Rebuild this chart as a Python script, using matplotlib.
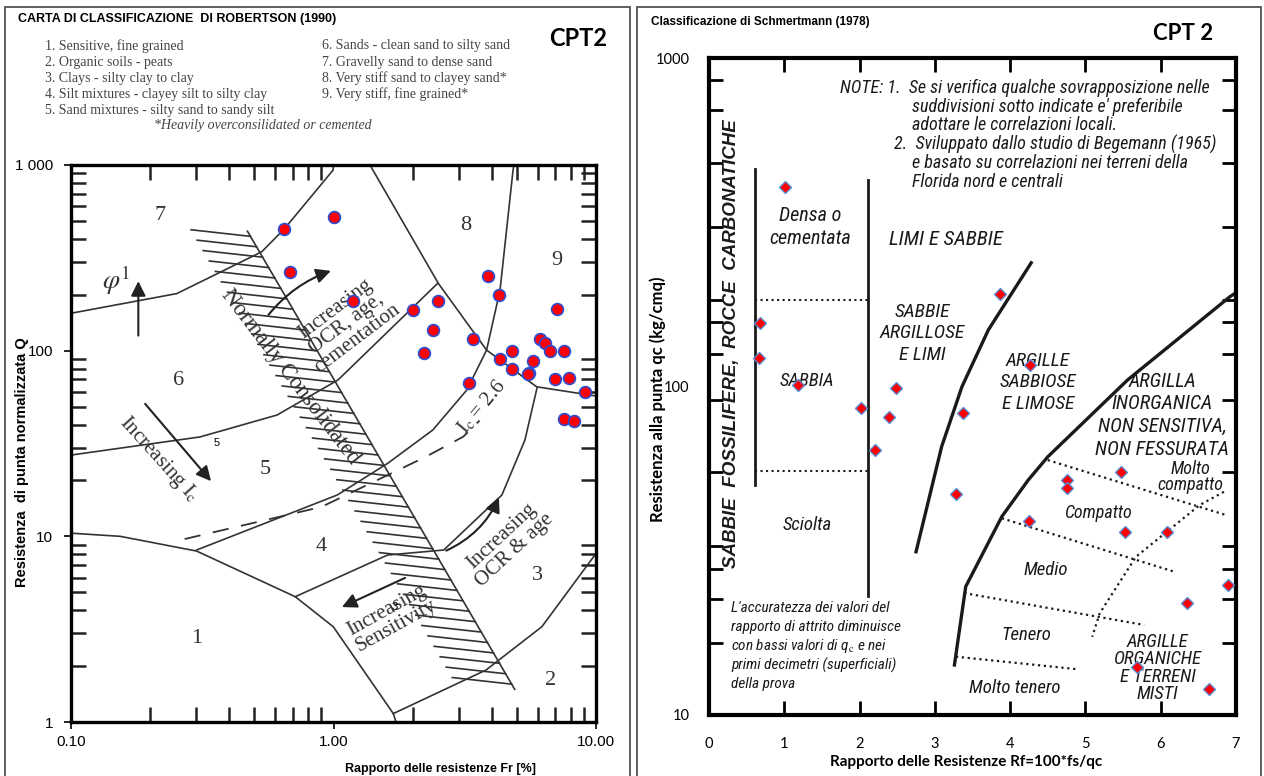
import matplotlib
matplotlib.use('Agg')
import matplotlib.pyplot as plt
import matplotlib.patheffects as pe
from matplotlib import font_manager
from matplotlib.patches import Rectangle
from matplotlib.ticker import FixedLocator, NullFormatter

installed = {f.name for f in font_manager.fontManager.ttflist}


def pick(*names):
    for n in names:
        if n in installed:
            return n
    return 'DejaVu Sans'


SANS = pick('Liberation Sans', 'Arial')
SERIF = pick('Liberation Serif', 'DejaVu Serif')
NARROW = pick('Liberation Sans Narrow', 'Roboto Condensed', 'Liberation Sans')
CALIBRI = pick('Lato', 'Open Sans')

plt.rcParams['font.family'] = [SANS, 'DejaVu Sans']
plt.rcParams['mathtext.fontset'] = 'stix'

# CPT2 points on the Robertson (1990) chart
fr_rob = [0.65, 1.00, 0.68, 1.19, 2.01, 2.49, 2.39, 2.22, 3.88, 4.28, 3.41, 3.29, 4.32, 4.80,
          4.80, 5.77, 5.56, 5.52, 6.13, 6.38, 6.70, 7.57, 7.09, 7.00, 7.87, 9.08, 7.55, 8.24]
q_rob = [450, 524, 264, 184, 165, 184, 129, 97, 252, 200, 116, 67, 90, 100,
         80, 88, 76, 75, 116, 110, 99, 99, 168, 70, 71, 60, 43, 42]

# CPT2 points on the Schmertmann (1978) chart
rf_sch = [1.01, 0.68, 0.67, 1.18, 2.02, 2.49, 2.39, 2.20, 3.87, 4.27, 3.38,
          3.28, 4.76, 4.76, 5.47, 4.25, 5.52, 6.08, 6.90, 6.35, 5.69, 6.64]
qc_sch = [404, 156, 122, 101, 86, 99, 81, 64, 191, 116, 83,
          47, 52, 49, 55, 39, 36, 36, 24.8, 22, 14, 12]

# Robertson zone boundaries
b1_fr = [0.100, 0.154, 0.301, 0.715, 0.998, 1.69, 1.73]
b1_q = [10.4, 10.0, 8.33, 4.73, 3.26, 1.11, 1.0]
b2_fr = [1.69, 3.81, 6.22, 9.9, 10.0]
b2_q = [1.11, 1.905, 3.26, 7.93, 8.1]
b34_fr = [0.715, 1.607, 2.63, 4.38, 5.36, 5.96]
b34_q = [4.73, 7.93, 8.44, 16.7, 33.0, 62.9]
b45_fr = [0.301, 1.034, 1.607, 2.39, 3.22, 3.83, 4.31, 4.83, 4.87]
b45_q = [8.44, 16.7, 24.7, 37.4, 61.4, 100.7, 212, 938, 1000]
b56_fr = [0.1, 0.31, 0.609, 1.04, 2.49]
b56_q = [27.4, 34.3, 45.0, 69.5, 230]
b67_fr = [0.1, 0.253, 0.533, 0.649, 0.996, 1.0]
b67_q = [159, 203, 341, 452, 938, 1000]
b8_fr = [1.377, 2.51, 3.83, 5.94, 10.0]
b8_q = [1000, 230, 100.7, 63.9, 57.0]
ic26_fr = [0.271, 0.899, 2.245, 3.12, 3.6]
ic26_q = [9.67, 14.4, 26.8, 34.4, 42.0]
nc_fr = [0.47, 4.9]
nc_q = [440, 1.5]

zone_labels = ['1', '2', '3', '4', '5', '6', '7', '8', '9']
zone_fr = [0.301, 6.69, 5.96, 0.899, 0.548, 0.256, 0.218, 3.19, 7.08]
zone_q = [2.82, 1.68, 6.19, 8.87, 22.8, 69.4, 537, 475, 307]

legend_left = ['1. Sensitive, fine grained', '2. Organic soils - peats',
               '3. Clays - silty clay to clay', '4. Silt mixtures - clayey silt to silty clay',
               '5. Sand mixtures - silty sand to sandy silt']
legend_right = ['6. Sands - clean sand to silty sand', '7. Gravelly sand to dense sand',
                '8. Very stiff sand to clayey sand*', '9. Very stiff, fine grained*']

# Schmertmann chart lines
sv1_rf = [0.61, 0.61]
sv1_qc = [50, 460]
sv2_rf = [2.11, 2.11]
sv2_qc = [23, 425]
sdot_rf = [0.61, 2.11]
sdot_hi = [183, 183]
sdot_lo = [55.3, 55.3]
sc1_rf = [4.28, 3.71, 3.36, 3.09, 2.75]
sc1_qc = [238, 148.6, 99.9, 65.6, 31.4]
sc2_rf = [7.0, 6.92, 5.56, 4.50, 4.24, 3.89, 3.41, 3.26]
sc2_qc = [193, 187.7, 104.7, 61.1, 51.9, 40.2, 24.6, 14.2]
sd1_rf = [4.50, 6.87]
sd1_qc = [59.7, 40.6]
sd2_rf = [3.89, 6.18]
sd2_qc = [39.7, 27.3]
sd3_rf = [3.39, 5.78]
sd3_qc = [23.5, 18.8]
sd4_rf = [3.28, 4.87]
sd4_qc = [15.05, 13.8]
sd5_rf = [6.84, 6.52, 5.67, 5.19, 5.09]
sd5_qc = [47.8, 43.6, 30.3, 20.4, 17.3]
scan_ticks = [857, 693, 478, 306, 183, 157, 126, 91, 55, 32.7, 27.9, 22.5, 16.6]

W, H = 1264, 776
fig = plt.figure(figsize=(W / 100, H / 100), dpi=100)


def ftext(x, y, s, **kw):
    fig.text(x / W, 1 - y / H, s, **kw)


def frame(x0, x1):
    fig.add_artist(Rectangle((x0 / W, -0.01), (x1 - x0) / W, 1.01 - 7 / H,
                             transform=fig.transFigure, fill=False, lw=1.2, ec='#444444'))


frame(5, 630)
frame(637, 1261)

# ---------------- left: Robertson ----------------
ax1 = fig.add_axes([71 / W, 1 - 722 / H, (596 - 71) / W, (722 - 165) / H])
ax1.set_xscale('log')
ax1.set_yscale('log')
ax1.set_xlim(0.1, 10)
ax1.set_ylim(1, 1000)
ax1.set_xticks([0.1, 1, 10])
ax1.set_xticklabels(['0.10', '1.00', '10.00'])
ax1.set_yticks([1, 10, 100, 1000])
ax1.set_yticklabels(['1', '10', '100', '1 000'])
ax1.xaxis.set_minor_formatter(NullFormatter())
ax1.yaxis.set_minor_formatter(NullFormatter())
ax1.tick_params(which='major', direction='out', length=5, width=1.2, labelsize=11)
ax1.tick_params(axis='x', which='major', pad=4)
ax1.tick_params(axis='y', which='major', pad=8)
ax1.tick_params(which='minor', direction='in', length=11, width=1.8,
                top=True, right=True, color='#222222')
for s in ax1.spines.values():
    s.set_linewidth(2.4)

line_kw = dict(color='#333333', lw=1.2, zorder=2)
for fx, qy in [(b1_fr, b1_q), (b2_fr, b2_q), (b34_fr, b34_q), (b45_fr, b45_q),
               (b56_fr, b56_q), (b67_fr, b67_q), (b8_fr, b8_q)]:
    ax1.plot(fx, qy, **line_kw)
ax1.plot(ic26_fr, ic26_q, color='#333333', lw=1.3, ls=(0, (9, 7)))
ax1.plot(nc_fr, nc_q, color='#333333', lw=1.2,
         path_effects=[pe.withTickedStroke(angle=-126.6, spacing=8.6, length=5.0)])

for lab, fx, qy in zip(zone_labels, zone_fr, zone_q):
    ax1.text(fx, qy, lab, family=SERIF, size=16, color='#333333', ha='center', va='center')

serif = dict(family=SERIF, color='#333333', ha='center', va='center', rotation_mode='anchor')
ax1.text(0.683, 72.4, 'Normally Consolidated', size=16.5, rotation=-52.6, **serif)
ax1.text(1.116, 139, 'Increasing\nOCR, age,\ncementation', size=15, rotation=37,
         linespacing=0.95, **serif)
ax1.text(4.62, 9.17, 'Increasing\nOCR & age', size=15, rotation=43, linespacing=0.95, **serif)
ax1.text(1.665, 3.62, 'Increasing\nSensitivity', size=15, rotation=29, linespacing=0.95, **serif)
ax1.text(0.216, 26.1, r'Increasing I$_{\rm c}$', size=15, rotation=-48, **serif)
ax1.text(3.67, 49.9, r'I$_{\rm c}$ = 2.6', size=15, rotation=50, **serif)
ax1.text(0.149, 240, r'$\varphi^{1}$', size=20, **serif)
ax1.text(0.359, 31.7, '5', size=8, ha='center', va='center')
ax1.text(1.71, 4.18, '3', size=8, ha='center', va='center')

arrow = dict(arrowstyle='-|>', color='#222222', lw=1.5, mutation_scale=22)
ax1.annotate('', xy=(0.1805, 245), xytext=(0.1805, 116.5), arrowprops=arrow)
ax1.annotate('', xy=(0.347, 19.3), xytext=(0.1886, 53.1), arrowprops=arrow)
ax1.annotate('', xy=(1.0, 272), xytext=(0.557, 152),
             arrowprops=dict(arrow, connectionstyle='arc3,rad=-0.15'))
ax1.annotate('', xy=(4.31, 16.7), xytext=(2.63, 8.26),
             arrowprops=dict(arrow, connectionstyle='arc3,rad=0.2'))
ax1.annotate('', xy=(1.053, 4.10), xytext=(1.915, 6.06), arrowprops=arrow)

ax1.plot(fr_rob, q_rob, 'o', ms=8.5, mfc='red', mec='#2a4fd6', mew=1.2, zorder=5)

ftext(18, 19, 'CARTA DI CLASSIFICAZIONE  DI ROBERTSON (1990)', weight='bold', size=9, va='center')
ftext(578, 38, 'CPT2', family=CALIBRI, weight='bold', size=17, ha='center', va='center')
for i, t in enumerate(legend_left):
    ftext(45, 46 + 16.2 * i, t, family=SERIF, size=10, color='#444444', va='center')
for i, t in enumerate(legend_right):
    ftext(322, 46 + 16.2 * i, t, family=SERIF, size=10, color='#444444', va='center')
ftext(263, 126, '*Heavily overconsilidated or cemented', family=SERIF, style='italic',
      size=10, color='#444444', ha='center', va='center')
ftext(22, 462, 'Resistenza  di punta normalizzata Q', weight='bold', size=10.5,
      rotation=90, ha='center', va='center')
ftext(440, 769, 'Rapporto delle resistenze Fr [%]', weight='bold', size=9, ha='center', va='center')

# ---------------- right: Schmertmann ----------------
ax2 = fig.add_axes([709 / W, 1 - 715 / H, (1236 - 709) / W, (715 - 58) / H])
ax2.set_yscale('log')
ax2.set_xlim(0, 7)
ax2.set_ylim(10, 1000)
ax2.set_xticks(range(8))
ax2.set_yticks([10, 100, 1000])
ax2.set_yticklabels(['10', '100', '1000'])
ax2.xaxis.remove_overlapping_locs = False
ax2.xaxis.set_minor_locator(FixedLocator([1, 2, 3, 4, 5, 6]))
ax2.yaxis.set_minor_locator(FixedLocator(scan_ticks))
ax2.yaxis.set_minor_formatter(NullFormatter())
ax2.tick_params(which='major', length=0, labelsize=10.5)
ax2.tick_params(axis='x', which='major', pad=16)
ax2.tick_params(axis='y', which='major', pad=14)
ax2.tick_params(which='minor', direction='in', length=10, width=2, top=True, right=True)
for t in ax2.get_xticklabels() + ax2.get_yticklabels():
    t.set_fontfamily(CALIBRI)
for s in ax2.spines.values():
    s.set_linewidth(3)

ink = '#1a1a1a'
ax2.plot(sv1_rf, sv1_qc, color=ink, lw=2)
ax2.plot(sv2_rf, sv2_qc, color=ink, lw=2)
ax2.plot(sdot_rf, sdot_hi, color=ink, lw=1.5, ls=':')
ax2.plot(sdot_rf, sdot_lo, color=ink, lw=1.5, ls=':')
ax2.plot(sc1_rf, sc1_qc, color=ink, lw=2.4)
ax2.plot(sc2_rf, sc2_qc, color=ink, lw=2.4)
for rx, qy in [(sd1_rf, sd1_qc), (sd2_rf, sd2_qc), (sd3_rf, sd3_qc), (sd4_rf, sd4_qc), (sd5_rf, sd5_qc)]:
    ax2.plot(rx, qy, color=ink, lw=1.6, ls=':')

lab = dict(family=[NARROW, 'DejaVu Sans'], style='italic', color=ink, ha='center', va='center',
           linespacing=1.25)
ax2.text(1.34, 306, 'Densa o\ncementata', size=14.5, **lab)
ax2.text(3.15, 281, 'LIMI E SABBIE', size=15, **lab)
ax2.text(2.83, 145, 'SABBIE\nARGILLOSE\nE LIMI', size=14, **lab)
ax2.text(4.37, 103, 'ARGILLE\nSABBIOSE\nE LIMOSE', size=14, **lab)
ax2.text(6.02, 81.8, 'ARGILLA\nINORGANICA\nNON SENSITIVA,\nNON FESSURATA', size=14.5,
         **dict(lab, linespacing=1.25))
ax2.text(1.30, 103.9, 'SABBIA', size=13.5, **lab)
ax2.text(1.30, 37.8, 'Sciolta', size=13.5, **lab)
ax2.text(6.39, 53.1, 'Molto\ncompatto', size=13, **dict(lab, linespacing=0.85))
ax2.text(5.17, 41.1, 'Compatto', size=13, **lab)
ax2.text(4.48, 27.6, 'Medio', size=13.5, **lab)
ax2.text(4.21, 17.5, 'Tenero', size=13.5, **lab)
ax2.text(4.06, 12.06, 'Molto tenero', size=13.5, **lab)
ax2.text(5.96, 13.9, 'ARGILLE\nORGANICHE\nE TERRENI\nMISTI', size=13.5, **dict(lab, linespacing=0.95))
ax2.text(0.305, 135, 'SABBIE  FOSSILIFERE,  ROCCE  CARBONATICHE', size=13.5, weight='bold',
         style='italic', color=ink, rotation=90, ha='center', va='center')

ax2.plot(rf_sch, qc_sch, 'D', ms=6.5, mfc='red', mec='#5b8bd6', mew=1, zorder=5)

note = dict(family=[NARROW, 'DejaVu Sans'], style='italic', size=13, color=ink, va='center')
ftext(840, 88, 'NOTE: 1.  Se si verifica qualche sovrapposizione nelle', **note)
ftext(912, 107, "suddivisioni sotto indicate e' preferibile", **note)
ftext(912, 125, 'adottare le correlazioni locali.', **note)
ftext(894, 144, '2.  Sviluppato dallo studio di Begemann (1965)', **note)
ftext(912, 163, 'e basato su correlazioni nei terreni della', **note)
ftext(912, 182, 'Florida nord e centrali', **note)
acc = ["L'accuratezza dei valori del", 'rapporto di attrito diminuisce',
       r'con bassi valori di q$_{\rm c}$ e nei', 'primi decimetri (superficiali)', 'della prova']
for i, t in enumerate(acc):
    ftext(731, 608 + 19 * i, t, **dict(note, size=11))

ftext(651, 22, 'Classificazione di Schmertmann (1978)', weight='bold', size=8.5, va='center')
ftext(1183, 33, 'CPT 2', family=CALIBRI, weight='bold', size=16, ha='center', va='center')
ftext(658, 399, 'Resistenza alla punta qc (kg/cmq)', family=CALIBRI, weight='bold', size=12,
      rotation=90, ha='center', va='center')
ftext(966, 762, 'Rapporto delle Resistenze Rf=100*fs/qc', family=CALIBRI, weight='bold',
      size=11, ha='center', va='center')

fig.savefig('out.png', dpi=100)
